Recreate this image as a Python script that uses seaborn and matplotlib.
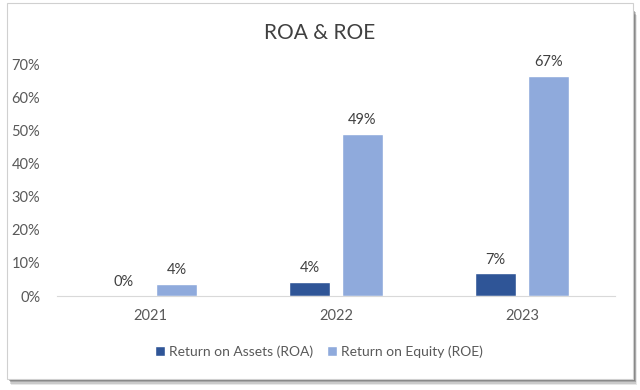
import seaborn as sns
import matplotlib.pyplot as plt
import matplotlib.patches as mpatches
import pandas as pd

# data
years = ["2021", "2022", "2023"]
roa = [0.1, 4.2, 6.8]     # Return on Assets, %
roe = [3.6, 48.8, 66.5]   # Return on Equity, %
roa_labels = ["0%", "4%", "7%"]
roe_labels = ["4%", "49%", "67%"]
series_names = ["Return on Assets (ROA)", "Return on Equity (ROE)"]
y_ticks = [0, 10, 20, 30, 40, 50, 60, 70]

df = pd.DataFrame({
    "Year": years * 2,
    "Value": roa + roe,
    "Series": [series_names[0]] * 3 + [series_names[1]] * 3,
})

sns.set_style("white")
plt.rcParams["font.family"] = ["Lato", "DejaVu Sans"]

fig = plt.figure(figsize=(6.4, 3.9), dpi=100)
fig.patch.set_facecolor("white")

# card frame with a soft shadow underneath
for i, a in enumerate([0.12, 0.18, 0.25, 0.35]):
    off = 6 - i * 1.5
    fig.patches.append(mpatches.Rectangle(
        ((9 + off * 0.3) / 640, (11 - off) / 390), 626 / 640, 370 / 390,
        transform=fig.transFigure, facecolor="#444444", edgecolor="none",
        alpha=a, zorder=0))
fig.patches.append(mpatches.Rectangle(
    (7 / 640, 11 / 390), 626 / 640, 376 / 390, transform=fig.transFigure,
    facecolor="white", edgecolor="#d0d0d0", linewidth=0.8, zorder=1))

ax = fig.add_axes([57 / 640, 94 / 390, 558 / 640, 232 / 390])
ax.set_zorder(5)
ax.set_facecolor("none")
palette = ["#2F5597", "#8FAADC"]
sns.barplot(data=df, x="Year", y="Value", hue="Series", palette=palette,
            width=0.57, gap=0.23, saturation=1, ax=ax, legend=True)

ax.set_ylim(0, 70)
ax.set_xlim(-0.5, 2.5)
ax.set_yticks(y_ticks)
ax.set_yticklabels([f"{t}%" for t in y_ticks])
ax.set_xlabel("")
ax.set_ylabel("")
for s in ["top", "right", "left"]:
    ax.spines[s].set_visible(False)
ax.spines["bottom"].set_color("#d9d9d9")
ax.tick_params(axis="y", length=0, pad=12, labelsize=10.5, labelcolor="#595959")
ax.tick_params(axis="x", length=0, pad=9, labelsize=10.5, labelcolor="#595959")

for cont, labels in zip(ax.containers, [roa_labels, roe_labels]):
    ax.bar_label(cont, labels=labels, padding=5, fontsize=10.5, color="#404040")

ax.legend(loc="upper center", bbox_to_anchor=(0.47, -0.16), ncol=2,
          frameon=False, fontsize=10, handlelength=0.7, handleheight=0.7,
          handletextpad=0.3, columnspacing=1.0, labelcolor="#595959")

fig.text(0.5, 1 - 33 / 390, "ROA & ROE", ha="center", va="center",
         fontsize=15, color="#404040")

fig.savefig("out.png", dpi=100)
